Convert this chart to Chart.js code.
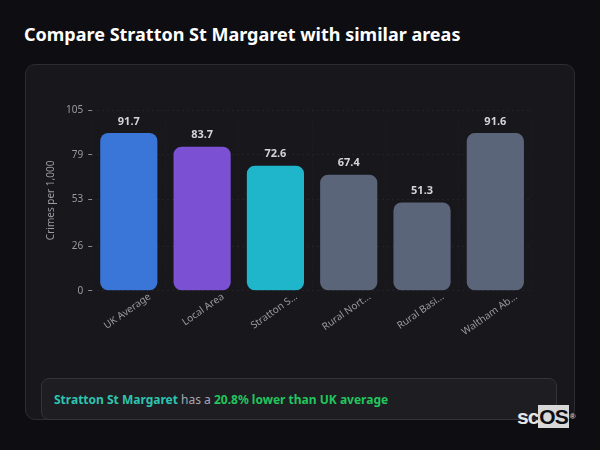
<!DOCTYPE html>
<html>
<head>
<meta charset="utf-8">
<script src="https://cdn.jsdelivr.net/npm/chart.js@4.4.0/dist/chart.umd.min.js"></script>
<style>
  html, body { margin: 0; padding: 0; }
  body { width: 600px; height: 450px; background: #0d0d12; font-family: "Noto Sans", sans-serif; position: relative; overflow: hidden; }
  h1 { position: absolute; left: 24px; top: 22px; margin: 0; font-size: 18px; font-weight: 700; color: #fff; }
  .panel { position: absolute; left: 25px; top: 64px; width: 548px; height: 354px; background: #17171c; border: 1px solid #2c2c33; border-radius: 10px; }
  .wrap { position: absolute; left: 25px; top: 64px; width: 550px; height: 300px; }
  .note { position: absolute; left: 41px; top: 378px; width: 516px; height: 42px; background: #1d1d22; border: 1px solid #33333a; border-radius: 8px; box-sizing: border-box; padding: 0 12px; line-height: 42px; font-size: 12px; color: #a8a8b0; }
  .note .place { color: #2ec4ae; font-weight: 700; }
  .note .diff { color: #22c55e; font-weight: 700; }
  .logo { position: absolute; left: 517px; top: 406px; font-family: "Liberation Sans", Arial, sans-serif; font-size: 21px; font-weight: 700; color: #e6e6e6; letter-spacing: -1px; line-height: 22px; }
  .logo .os { background: #d8d8d8; color: #0d0d12; padding: 0 1px; }
  .logo sup { font-size: 8px; color: #ccc; vertical-align: top; margin-left: 1px; }
</style>
</head>
<body>
<h1>Compare Stratton St Margaret with similar areas</h1>
<div class="panel"></div>
<div class="wrap"><canvas id="crimeChart" width="550" height="300"></canvas></div>
<div class="note"><span class="place">Stratton St Margaret</span> has a <span class="diff">20.8% lower than UK average</span></div>
<div class="logo">sc<span class="os">OS</span><sup>®</sup></div>
<script>
// categorias y valores (delitos por cada 1.000 habitantes)
const areas = ['UK Average', 'Local Area', 'Stratton St Margaret', 'Rural North East', 'Rural Basingstoke', 'Waltham Abbey']
const crimeRates = [91.7, 83.7, 72.6, 67.4, 51.3, 91.6]
const barColors = ['#3a76d8', '#7b50d3', '#1fb6cc', '#5b6579', '#5b6579', '#5b6579']
const yTicks = [0, 26, 53, 79, 105]

// etiquetas de valor encima de cada barra
const valueLabels = {
    id: 'valueLabels',
    afterDatasetsDraw(chart) {
        const ctx = chart.ctx
        const meta = chart.getDatasetMeta(0)
        ctx.save()
        ctx.font = 'bold 11px "Noto Sans"'
        ctx.fillStyle = '#d4d4d8'
        ctx.textAlign = 'center'
        ctx.textBaseline = 'bottom'
        meta.data.forEach((bar, i) => {
            ctx.fillText(crimeRates[i].toFixed(1), bar.x, bar.y - 6)
        })
        ctx.restore()
    }
}

new Chart(document.getElementById('crimeChart'), {
    type: 'bar',
    data: {
        labels: areas,
        datasets: [{
            label: 'Crimes per 1,000',
            data: crimeRates,
            backgroundColor: barColors,
            borderRadius: 8,
            borderSkipped: false,
            barPercentage: 0.78,
            categoryPercentage: 1
        }]
    },
    options: {
        responsive: false,
        animation: false,
        layout: { padding: { left: 16, right: 43, top: 46, bottom: 26 } },
        plugins: {
            legend: { display: false },
            tooltip: { enabled: false }
        },
        scales: {
            x: {
                grid: { color: 'rgba(255,255,255,0.025)', drawTicks: false },
                border: { display: false, dash: [2, 3] },
                ticks: {
                    color: '#9a9aa2',
                    font: { family: 'Noto Sans', size: 10 },
                    minRotation: 35,
                    maxRotation: 35,
                    padding: 0,
                    labelOffset: 21,
                    callback: function (v) {
                        const l = this.getLabelForValue(v)
                        return l.length > 10 ? l.slice(0, 10) + '...' : l
                    }
                }
            },
            y: {
                min: 0,
                max: 105,
                afterBuildTicks: (axis) => { axis.ticks = yTicks.map(v => ({ value: v })) },
                grid: { color: 'rgba(255,255,255,0.05)', tickColor: '#8a8a92', tickLength: 4 },
                border: { display: false, dash: [2, 3] },
                ticks: { color: '#9a9aa2', font: { family: 'Noto Sans', size: 10 }, padding: 5 },
                title: { display: true, text: 'Crimes per 1,000', color: '#9a9aa2', font: { family: 'Noto Sans', size: 10 } }
            }
        }
    },
    plugins: [valueLabels]
})
</script>
</body>
</html>
